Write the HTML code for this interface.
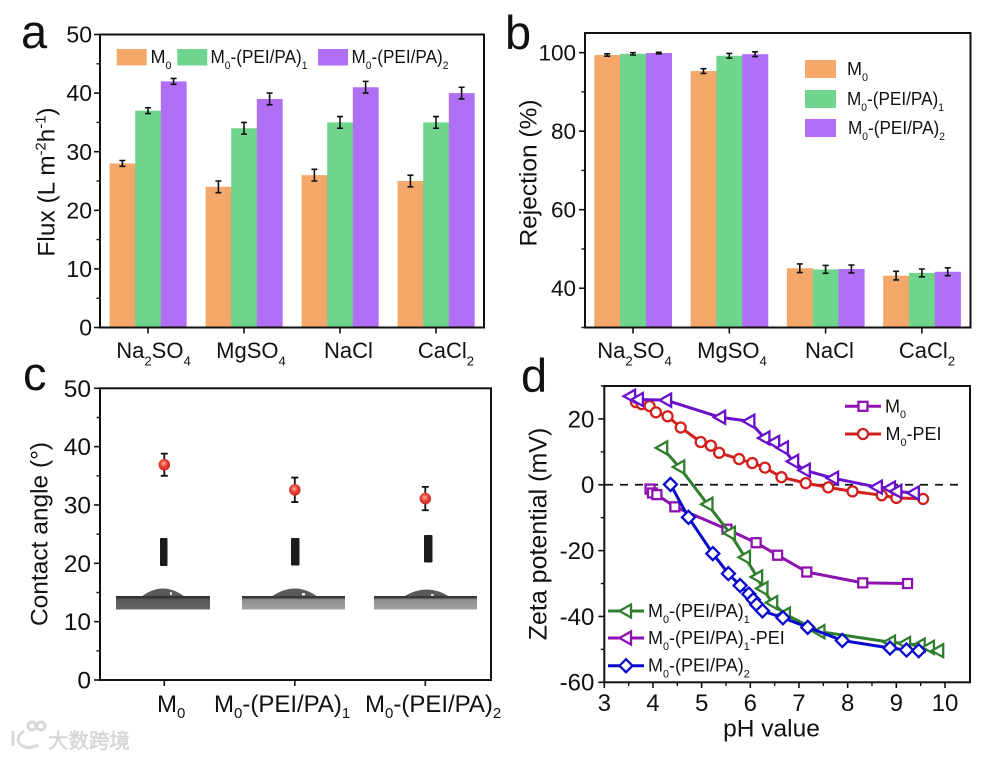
<!DOCTYPE html>
<html lang="en">
<head>
<meta charset="utf-8">
<title>Membrane performance figure</title>
<style>
html,body{margin:0;padding:0;background:#fff;}
svg{display:block;font-family:"Liberation Sans","Noto Sans CJK SC",sans-serif;fill:#111;}
</style>
</head>
<body>
<svg id="fig" xmlns="http://www.w3.org/2000/svg" width="1000" height="759" viewBox="0 0 1000 759">
<defs>
<radialGradient id="ball" cx="45%" cy="40%" r="60%">
<stop offset="0" stop-color="#f6b7a0"/><stop offset="0.45" stop-color="#ea4a3c"/><stop offset="1" stop-color="#c6201c"/>
</radialGradient>
<linearGradient id="stripDark" x1="0" y1="0" x2="0" y2="1">
<stop offset="0" stop-color="#2e2e2e"/><stop offset="0.16" stop-color="#3a3a3a"/><stop offset="0.24" stop-color="#585858"/><stop offset="1" stop-color="#666"/>
</linearGradient>
<linearGradient id="stripLight" x1="0" y1="0" x2="0" y2="1">
<stop offset="0" stop-color="#333"/><stop offset="0.14" stop-color="#3e3e3e"/><stop offset="0.26" stop-color="#8e8e8e"/><stop offset="1" stop-color="#a2a2a2"/>
</linearGradient>
</defs>

<rect x="0" y="0" width="1000" height="759" fill="#fff"/>

<text x="21" y="48" font-size="47">a</text>
<text x="505" y="49" font-size="47">b</text>
<text x="23" y="390" font-size="47">c</text>
<text x="521" y="392" font-size="47">d</text>

<g id="panelA"></g>
<g id="panelB"></g>

<g>
  <g>
    <rect x="160" y="538" width="7.5" height="28" rx="1" fill="#1c1c1c"/>
    <path d="M141 597 Q163 580 185 597 Z" fill="#5a5a5a"/>
    <rect x="116" y="596" width="94" height="13.5" fill="url(#stripDark)"/>
    <rect x="170" y="592" width="2" height="3" fill="#ddd"/>
  </g>
  <g>
    <rect x="291" y="538" width="8.5" height="27.5" rx="1" fill="#1c1c1c"/>
    <path d="M271 597 Q295 580 318 597 Z" fill="#5a5a5a"/>
    <rect x="242" y="596" width="103" height="13.5" fill="url(#stripLight)"/>
    <rect x="302" y="593" width="3" height="2.5" fill="#eee"/>
  </g>
  <g>
    <rect x="424" y="535" width="8.5" height="27.5" rx="1" fill="#1c1c1c"/>
    <path d="M403 597 Q427 582 450 597 Z" fill="#5a5a5a"/>
    <rect x="374" y="596" width="103" height="13.5" fill="url(#stripLight)"/>
    <rect x="431" y="594" width="2.5" height="2" fill="#eee"/>
  </g>
</g>

<g id="panelC"></g>

<g font-size="24">
  <text x="157" y="712">M<tspan font-size="15" dy="6">0</tspan></text>
  <text x="214" y="712">M<tspan font-size="15" dy="6">0</tspan><tspan dy="-6">-(PEI/PA)</tspan><tspan font-size="15" dy="6">1</tspan></text>
  <text x="365" y="712">M<tspan font-size="15" dy="6">0</tspan><tspan dy="-6">-(PEI/PA)</tspan><tspan font-size="15" dy="6">2</tspan></text>
</g>

<g id="panelD"></g>

<g opacity="0.95">
  <g fill="none" stroke="#d8d8d8" stroke-width="3">
    <path d="M13 731 V746"/>
    <path d="M24 731 Q14 738 21 745 Q28 750 38 745"/>
    <circle cx="32" cy="726" r="4"/>
    <circle cx="41" cy="726" r="4"/>
  </g>
  <text x="48" y="748" font-size="20.5" fill="#d4d4d4" stroke="#d4d4d4" stroke-width="0.6">大数跨境</text>
</g>
</svg>

<script>
// ---- Panel a data ----
var fluxCategories = ['Na_2SO_4', 'MgSO_4', 'NaCl', 'CaCl_2'];
var fluxM0 = [28, 24, 26, 25];
var fluxPA1 = [37, 34, 35, 35];
var fluxPA2 = [42, 39, 41, 40];
var fluxErrM0 = [0.5, 1, 1, 1];
var fluxErrPA1 = [0.5, 1, 1, 1];
var fluxErrPA2 = [0.5, 1, 1, 1];
var fluxTicks = [0, 10, 20, 30, 40, 50];
var fluxMinorTicks = [5, 15, 25, 35, 45];

// ---- Panel b data ----
var rejectionCategories = ['Na_2SO_4', 'MgSO_4', 'NaCl', 'CaCl_2'];
var rejectionM0 = [99.4, 95.3, 45.1, 43.2];
var rejectionPA1 = [99.7, 99.2, 44.8, 43.9];
var rejectionPA2 = [99.9, 99.6, 44.9, 44.2];
var rejectionErrM0 = [0.3, 0.6, 1.1, 1.1];
var rejectionErrPA1 = [0.3, 0.6, 1.0, 1.0];
var rejectionErrPA2 = [0.2, 0.6, 1.0, 1.0];
var rejectionTicks = [40, 60, 80, 100];
var rejectionMinorTicks = [30, 50, 70, 90];

// ---- Panel c data ----
var angleValues = [36.9, 32.6, 31.1];
var angleErrors = [1.9, 2.1, 2.0];
var angleTicks = [0, 10, 20, 30, 40, 50];
var angleMinorTicks = [5, 15, 25, 35, 45];

// ---- Panel d data ----
var m0PH = [3.94, 3.99, 4.08, 4.45, 5.52, 6.12, 6.56, 7.16, 8.31, 9.23];
var m0Zeta = [-1.3, -2.5, -3, -6.7, -13.5, -17.6, -21.4, -26.5, -29.8, -30];
var m0PeiPH = [3.65, 3.77, 3.93, 4.06, 4.30, 4.57, 4.98, 5.19, 5.36, 5.77, 6.04, 6.30, 6.64, 7.14, 7.6, 8.1, 8.7, 9.0, 9.55];
var m0PeiZeta = [25.1, 24.5, 23.9, 22, 20.8, 17.4, 13, 11.9, 9.7, 7.8, 6.6, 5.2, 2.3, 0.5, -0.8, -2, -3.2, -4, -4.3];
var pa1PH = [4.19, 4.54, 5.12, 5.58, 5.89, 6.14, 6.25, 6.45, 6.71, 7.42, 8.87, 9.18, 9.48, 9.67, 9.86];
var pa1Zeta = [11.2, 5.4, -5.9, -14.7, -22, -28, -31.5, -35.8, -39.3, -44.6, -47.8, -48.2, -48.7, -49.4, -50.4];
var pa1PeiPH = [3.53, 3.69, 4.27, 5.38, 5.98, 6.29, 6.49, 6.67, 6.88, 7.12, 7.70, 8.6, 8.87, 9.0, 9.36];
var pa1PeiZeta = [26.9, 25.9, 25.7, 20.5, 19.3, 14.2, 12.9, 11.2, 7.1, 4.4, 2.0, -0.7, -1, -2, -2.5];
var pa2PH = [4.36, 4.73, 5.23, 5.55, 5.79, 5.97, 6.06, 6.13, 6.25, 6.67, 7.18, 7.89, 8.87, 9.21, 9.46];
var pa2Zeta = [0.1, -9.9, -20.9, -27, -30.6, -33.2, -34.9, -36.4, -38.3, -40.4, -43.3, -47.3, -49.6, -50.2, -50.4];
var zetaTicks = [-60, -40, -20, 0, 20];
var zetaMinorTicks = [-50, -30, -10, 10, 30];
var phTicks = [3, 4, 5, 6, 7, 8, 9, 10];
var phMinorTicks = [3.5, 4.5, 5.5, 6.5, 7.5, 8.5, 9.5];

var NS = 'http://www.w3.org/2000/svg';
var COLOR_M0 = '#F4A96B', COLOR_PA1 = '#6FD48C', COLOR_PA2 = '#B06FF5';

function add(parent, tag, attrs) {
  var el = document.createElementNS(NS, tag);
  for (var k in attrs) el.setAttribute(k, attrs[k]);
  parent.appendChild(el);
  return el;
}
function scale(d0, d1, r0, r1) {
  return function (v) { return r0 + (v - d0) * (r1 - r0) / (d1 - d0); };
}
// Builds a text node; "_x" marks a subscript character and "^{..}" a superscript run.
function rich(parent, str, attrs, size) {
  var t = add(parent, 'text', attrs);
  t.setAttribute('font-size', size);
  var small = size * 0.6, off = size * 0.33, shift = 0, buf = '';
  function flush(txt, target, fs) {
    if (!txt) return;
    var s = add(t, 'tspan', {});
    if (fs) s.setAttribute('font-size', fs);
    if (target !== shift) { s.setAttribute('dy', target - shift); shift = target; }
    s.textContent = txt;
  }
  for (var i = 0; i < str.length; i++) {
    if (str[i] === '_') { flush(buf, 0); buf = ''; i++; flush(str[i], off, small); }
    else if (str[i] === '^') {
      flush(buf, 0); buf = '';
      var end = str.indexOf('}', i);
      flush(str.slice(i + 2, end), -size * 0.36, small);
      i = end;
    } else buf += str[i];
  }
  flush(buf, 0);
  return t;
}
function frame(g, x0, y0, x1, y1) {
  var f = add(g, 'rect', { x: x0, y: y0, width: x1 - x0, height: y1 - y0, fill: 'none', stroke: '#111', 'stroke-width': 2 });
  
  
}
function yAxis(g, sy, x0, majors, minors, size, gap) {
  majors.forEach(function (v) {
    var t = add(g, 'line', { x1: x0 - 6, x2: x0, y1: sy(v), y2: sy(v), stroke: '#111', 'stroke-width': 1.6 });
    
    
    var l = add(g, 'text', { x: x0 - gap, y: sy(v) + size * 0.35, 'text-anchor': 'end', 'font-size': size });
    l.textContent = String(v);
    
    
  });
  minors.forEach(function (v) {
    var t = add(g, 'line', { x1: x0 - 3.5, x2: x0, y1: sy(v), y2: sy(v), stroke: '#111', 'stroke-width': 1.4 });
    
    
  });
}
function barPanel(g, prefix, cats, sy, cx, base, barW, seriesList, labelShift, labelGrow) {
  seriesList.forEach(function (s, si) {
    s.values.forEach(function (v, i) {
      var x = cx(i) + (si - 1.5) * barW;
      var b = add(g, 'rect', { x: x, y: sy(v), width: barW + 0.3, height: base - sy(v), fill: s.color });
      
      
    });
  });
  seriesList.forEach(function (s, si) {
    s.values.forEach(function (v, i) {
      var x = cx(i) + (si - 1) * barW, e = s.errors[i];
      var d = 'M' + x + ' ' + sy(v + e) + 'V' + sy(v - e) +
        'M' + (x - 3) + ' ' + sy(v + e) + 'h6M' + (x - 3) + ' ' + sy(v - e) + 'h6';
      var p = add(g, 'path', { d: d, fill: 'none', stroke: '#111', 'stroke-width': 1.6 });
      
      
    });
  });
  cats.forEach(function (c, i) {
    var t = add(g, 'line', { x1: cx(i), x2: cx(i), y1: base, y2: base + 6, stroke: '#111', 'stroke-width': 1.6 });
    
    
    var l = rich(g, c, { x: cx(i) + labelShift + i * labelGrow, y: 358, 'text-anchor': 'middle' }, 22);
    
    
  });
}

// ---- Panel a ----
(function () {
  var g = document.getElementById('panelA');
  var sy = scale(0, 50, 327.5, 34.5);
  var cx = function (i) { return 148 + 96 * i; };
  barPanel(g, 'flux', fluxCategories, sy, cx, 327.5, 25.6, [
    { key: 'm0', color: COLOR_M0, values: fluxM0, errors: fluxErrM0 },
    { key: 'pa1', color: COLOR_PA1, values: fluxPA1, errors: fluxErrPA1 },
    { key: 'pa2', color: COLOR_PA2, values: fluxPA2, errors: fluxErrPA2 }
  ], 5.5, 1.5);
  frame(g, 100, 34.5, 484, 327.5);
  yAxis(g, sy, 100, fluxTicks, fluxMinorTicks, 23, 8);
  var title = rich(g, 'Flux (L m^{-2}h^{-1})', { transform: 'translate(54.5 182) rotate(-90)', 'text-anchor': 'middle' }, 24.5);
  
  

  var s1 = add(g, 'rect', { x: 116.7, y: 49, width: 30, height: 16.5, fill: COLOR_M0 });
  
  
  var s2 = add(g, 'rect', { x: 177.3, y: 49, width: 30, height: 16.5, fill: COLOR_PA1 });
  
  
  var s3 = add(g, 'rect', { x: 318, y: 49, width: 30, height: 16.5, fill: COLOR_PA2 });
  
  
  var t1 = rich(g, 'M_0', { x: 150.5, y: 63 }, 18);
  
  
  var t2 = rich(g, 'M_0-(PEI/PA)_1', { x: 210.5, y: 63, textLength: 97, lengthAdjust: 'spacingAndGlyphs' }, 18);
  
  
  var t3 = rich(g, 'M_0-(PEI/PA)_2', { x: 351.5, y: 63, textLength: 97, lengthAdjust: 'spacingAndGlyphs' }, 18);
  
  
})();

// ---- Panel b ----
(function () {
  var g = document.getElementById('panelB');
  var sy = scale(30, 105, 327.5, 33);
  var cx = function (i) { return 633 + 96.3 * i; };
  barPanel(g, 'rejection', rejectionCategories, sy, cx, 327.5, 25.8, [
    { key: 'm0', color: COLOR_M0, values: rejectionM0, errors: rejectionErrM0 },
    { key: 'pa1', color: COLOR_PA1, values: rejectionPA1, errors: rejectionErrPA1 },
    { key: 'pa2', color: COLOR_PA2, values: rejectionPA2, errors: rejectionErrPA2 }
  ], 1.5, 1.2);
  frame(g, 585, 33, 970.5, 327.5);
  yAxis(g, sy, 585, rejectionTicks, rejectionMinorTicks, 22.5, 9);
  var title = rich(g, 'Rejection (%)', { transform: 'translate(536.5 173) rotate(-90)', 'text-anchor': 'middle' }, 24.5);
  
  

  var s1 = add(g, 'rect', { x: 805, y: 60, width: 31, height: 18, fill: COLOR_M0 });
  
  
  var s2 = add(g, 'rect', { x: 805, y: 90, width: 31, height: 18, fill: COLOR_PA1 });
  
  
  var s3 = add(g, 'rect', { x: 805, y: 119, width: 31, height: 18, fill: COLOR_PA2 });
  
  
  var t1 = rich(g, 'M_0', { x: 847, y: 75 }, 18);
  
  
  var t2 = rich(g, 'M_0-(PEI/PA)_1', { x: 847, y: 105, textLength: 97, lengthAdjust: 'spacingAndGlyphs' }, 18);
  
  
  var t3 = rich(g, 'M_0-(PEI/PA)_2', { x: 848, y: 134, textLength: 97, lengthAdjust: 'spacingAndGlyphs' }, 18);
  
  
})();

// ---- Panel c ----
(function () {
  var g = document.getElementById('panelC');
  var sy = scale(0, 50, 680, 388.3);
  var cx = function (i) { return 164.3 + 130.5 * i; };
  frame(g, 100, 388.3, 491, 680);
  yAxis(g, sy, 100, angleTicks, angleMinorTicks, 24.5, 9);
  angleValues.forEach(function (v, i) {
    var x = cx(i), e = angleErrors[i];
    var t = add(g, 'line', { x1: x, x2: x, y1: 680, y2: 686, stroke: '#111', 'stroke-width': 1.6 });
    
    
    var d = 'M' + x + ' ' + sy(v + e) + 'V' + sy(v - e) +
      'M' + (x - 3.5) + ' ' + sy(v + e) + 'h7M' + (x - 3.5) + ' ' + sy(v - e) + 'h7';
    var p = add(g, 'path', { d: d, fill: 'none', stroke: '#111', 'stroke-width': 1.8 });
    
    
    var c = add(g, 'circle', { cx: x, cy: sy(v), r: 5.8, fill: 'url(#ball)' });
    
    
  });
  var title = rich(g, 'Contact angle (°)', { transform: 'translate(47.5 534) rotate(-90)', 'text-anchor': 'middle' }, 24.5);
  
  
})();

// ---- Panel d ----
(function () {
  var g = document.getElementById('panelD');
  var sx = scale(3, 10, 604.3, 945);
  var sy = scale(-60, 30, 682.3, 386);

  function marker(parent, type, x, y, color) {
    var a = { fill: '#fff', stroke: color, 'stroke-width': 2.3 };
    if (type === 'square') {
      a.x = x - 4.5; a.y = y - 4.5; a.width = 9; a.height = 9;
      return add(parent, 'rect', a);
    }
    if (type === 'circle') {
      a.cx = x; a.cy = y; a.r = 5;
      return add(parent, 'circle', a);
    }
    if (type === 'triangle') {
      a.points = (x - 6.5) + ',' + y + ' ' + (x + 5) + ',' + (y - 6.5) + ' ' + (x + 5) + ',' + (y + 6.5);
      return add(parent, 'polygon', a);
    }
    a.points = x + ',' + (y - 6.5) + ' ' + (x + 6.5) + ',' + y + ' ' + x + ',' + (y + 6.5) + ' ' + (x - 6.5) + ',' + y;
    return add(parent, 'polygon', a);
  }

  var zero = add(g, 'line', { x1: 605, x2: 961, y1: sy(0), y2: sy(0), stroke: '#111', 'stroke-width': 1.8, 'stroke-dasharray': '8 7' });
  
  

  var seriesList = [
    { key: 'm0', xs: m0PH, ys: m0Zeta, color: '#8E12B0', type: 'square' },
    { key: 'm0-pei', xs: m0PeiPH, ys: m0PeiZeta, color: '#D2201C', type: 'circle' },
    { key: 'pa1', xs: pa1PH, ys: pa1Zeta, color: '#2F7F2F', type: 'triangle' },
    { key: 'pa1-pei', xs: pa1PeiPH, ys: pa1PeiZeta, color: '#6A10CC', type: 'triangle' },
    { key: 'pa2', xs: pa2PH, ys: pa2Zeta, color: '#0A0ACC', type: 'diamond' }
  ];
  seriesList.forEach(function (s) {
    var pts = s.xs.map(function (v, i) { return sx(v) + ',' + sy(s.ys[i]); }).join(' ');
    var line = add(g, 'polyline', { points: pts, fill: 'none', stroke: s.color, 'stroke-width': 3, 'stroke-linejoin': 'round' });
    
    
    s.xs.forEach(function (v, i) {
      var m = marker(g, s.type, sx(v), sy(s.ys[i]), s.color);
      
      
    });
  });

  frame(g, 604.3, 386, 970, 682.3);
  yAxis(g, sy, 604.3, zetaTicks, zetaMinorTicks, 24, 10);
  phTicks.forEach(function (v) {
    var t = add(g, 'line', { x1: sx(v), x2: sx(v), y1: 682.3, y2: 688, stroke: '#111', 'stroke-width': 1.6 });
    
    
    var l = add(g, 'text', { x: sx(v), y: 711, 'text-anchor': 'middle', 'font-size': 24 });
    l.textContent = String(v);
    
    
  });
  phMinorTicks.forEach(function (v) {
    var t = add(g, 'line', { x1: sx(v), x2: sx(v), y1: 682.3, y2: 686, stroke: '#111', 'stroke-width': 1.4 });
    
    
  });
  var xt = rich(g, 'pH value', { x: 771.5, y: 736.5, 'text-anchor': 'middle' }, 24.5);
  
  
  var yt = rich(g, 'Zeta potential (mV)', { transform: 'translate(546.5 534) rotate(-90)', 'text-anchor': 'middle' }, 25);
  
  

  function legendEntry(x0, x1, y, color, type, label, tx, name) {
    var e = add(g, 'g', {});
    
    
    add(e, 'line', { x1: x0, x2: x1, y1: y, y2: y, stroke: color, 'stroke-width': 3 });
    marker(e, type, (x0 + x1) / 2, y, color);
    rich(e, label, { x: tx, y: y + 6 }, 18);
  }
  legendEntry(845, 881, 406.3, '#8E12B0', 'square', 'M_0', 885, 'legend-entry-m0');
  legendEntry(845, 881, 434, '#D2201C', 'circle', 'M_0-PEI', 885.5, 'legend-entry-m0-pei');
  legendEntry(608, 644, 611, '#2F7F2F', 'triangle', 'M_0-(PEI/PA)_1', 648, 'legend-entry-pa1');
  legendEntry(608, 644, 638, '#8E12B0', 'triangle', 'M_0-(PEI/PA)_1-PEI', 648, 'legend-entry-pa1-pei');
  legendEntry(608, 644, 665.7, '#0A0ACC', 'diamond', 'M_0-(PEI/PA)_2', 648, 'legend-entry-pa2');
})();
</script>
</body>
</html>
